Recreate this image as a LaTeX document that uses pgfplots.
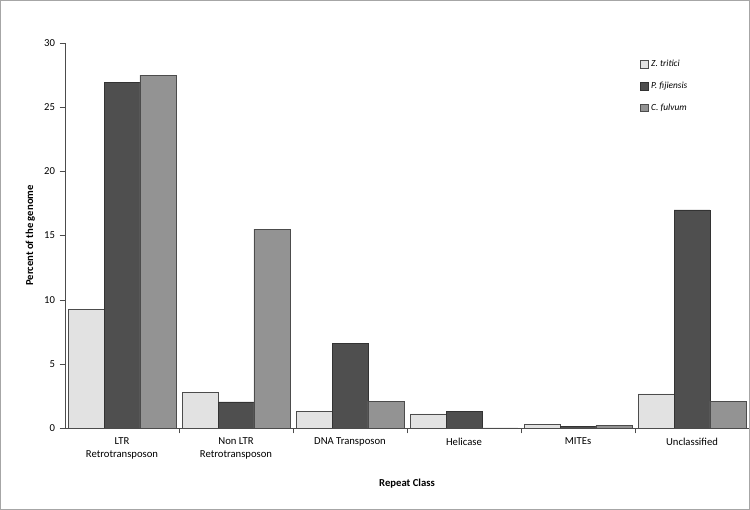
\documentclass[border=0pt]{standalone}
\usepackage{pgfplots}
\pgfplotsset{compat=1.18}
\usepackage{fontspec}
\setmainfont{Carlito}
\definecolor{cz}{HTML}{E2E2E2}
\definecolor{cp}{HTML}{4F4F4F}
\definecolor{cc}{HTML}{939393}
\begin{document}
\begin{tikzpicture}
\draw[gray!70, line width=0.8pt] (0.4pt,0.4pt) rectangle (562.1pt,382.1pt);
\begin{axis}[
  at={(48.75pt,61.5pt)}, anchor=south west,
  scale only axis, width=513pt, height=288.75pt,
  axis x line*=bottom, axis y line*=left,
  axis line style={gray!60!black},
  ymin=0, ymax=30, ytick={0,5,...,30},
  xmin=-0.5, xmax=5.5,
  xtick={0,...,5},
  xticklabels={LTR\\Retrotransposon, Non LTR\\Retrotransposon, DNA Transposon, Helicase, MITEs, Unclassified},
  xticklabel style={align=center, font=\footnotesize},
  x tick style={draw=none},
  extra x ticks={0.5,1.5,2.5,3.5,4.5},
  extra x tick labels={},
  extra x tick style={x tick style={draw=gray!60!black}},
  y tick style={gray!60!black}, tick align=outside, major tick length=4pt,
  yticklabel style={font=\footnotesize},
  /pgf/number format/assume math mode=true,
  ylabel={\textbf{Percent of the genome}}, ylabel style={font=\footnotesize},
  xlabel={\textbf{Repeat Class}}, xlabel style={font=\footnotesize},
  ybar, bar width=0.315,
  legend style={draw=none, at={(0.92,0.97)}, anchor=north east, font=\scriptsize\itshape, row sep=6pt, fill=none},
  legend cell align=left,
  legend image code/.code={\draw[#1] (0cm,-0.1cm) rectangle (0.2cm,0.1cm);},
]
\addplot[ybar, bar shift=-0.315, fill=cz, draw=black!70] coordinates {(0,9.25) (1,2.8) (2,1.3) (3,1.1) (4,0.3) (5,2.65)};
\addplot[ybar, bar shift=0, fill=cp, draw=black!80] coordinates {(0,26.95) (1,2.03) (2,6.6) (3,1.3) (4,0.15) (5,17.0)};
\addplot[ybar, bar shift=0.315, fill=cc, draw=black!70] coordinates {(0,27.5) (1,15.5) (2,2.1) (3,0) (4,0.2) (5,2.1)};
\legend{Z. tritici, P. fijiensis, C. fulvum}
\end{axis}
\end{tikzpicture}
\end{document}
